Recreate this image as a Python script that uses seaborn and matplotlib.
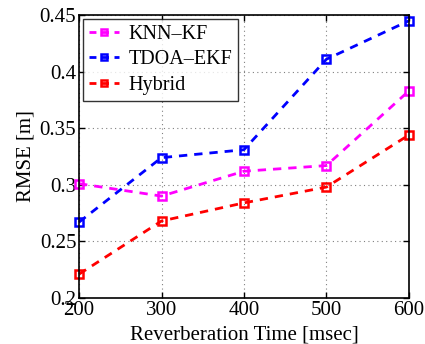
import matplotlib
matplotlib.use("Agg")
import matplotlib.pyplot as plt
import seaborn as sns
import pandas as pd
from matplotlib.lines import Line2D

reverb_ms = [200, 300, 400, 500, 600]
knn_kf = [0.301, 0.290, 0.312, 0.317, 0.383]
tdoa_ekf = [0.267, 0.324, 0.331, 0.411, 0.445]
hybrid = [0.221, 0.268, 0.284, 0.298, 0.344]
series_names = ["KNN\u2013KF", "TDOA\u2013EKF", "Hybrid"]
colors = ["#ff00ff", "#0000ff", "#ff0000"]

df = pd.DataFrame({
    "t": reverb_ms * 3,
    "rmse": knn_kf + tdoa_ekf + hybrid,
    "method": [n for n in series_names for _ in reverb_ms],
})

sns.set_style("white")
plt.rcParams["font.family"] = ["Liberation Serif", "DejaVu Serif"]
plt.rcParams["text.color"] = "black"
plt.rcParams["axes.labelcolor"] = "black"
plt.rcParams["xtick.color"] = "black"
plt.rcParams["ytick.color"] = "black"

fig = plt.figure(figsize=(4.25, 3.44), dpi=100)
ax = fig.add_axes([0.186, 0.134, 0.776, 0.822])

dash = (0, (3, 2.5))
sns.lineplot(data=df, x="t", y="rmse", hue="method", palette=colors,
             hue_order=series_names, ax=ax, linewidth=2,
             marker="s", markersize=5.5, markerfacecolor="none",
             markeredgewidth=1.8, dashes=False, legend=False)
for line, c in zip(ax.lines, colors):
    line.set_linestyle(dash)
    line.set_markeredgecolor(c)
    line.set_clip_on(False)

ax.set_xlim(200, 600)
ax.set_ylim(0.2, 0.45)
ax.set_xticks([200, 300, 400, 500, 600])
ax.set_yticks([0.2, 0.25, 0.3, 0.35, 0.4, 0.45])
ax.set_yticklabels(["0.2", "0.25", "0.3", "0.35", "0.4", "0.45"])
ax.tick_params(labelsize=15, direction="in", length=4, width=1, pad=2,
               top=True, right=True, left=True, bottom=True)
ax.grid(True, linestyle=(0, (1, 3)), color="#808080", linewidth=0.8)
for s in ax.spines.values():
    s.set_color("black")
    s.set_linewidth(1.2)
ax.set_xlabel("Reverberation Time [msec]", fontsize=15, labelpad=4)
ax.set_ylabel("RMSE [m]", fontsize=15, labelpad=3)

handles = [Line2D([], [], color=c, linestyle=(0, (2.5, 2)), linewidth=2,
                  marker="s", markersize=5, markerfacecolor="none",
                  markeredgewidth=1.8, markeredgecolor=c) for c in colors]
leg = ax.legend(handles, series_names, loc="upper left", fontsize=14.5,
                frameon=True, fancybox=False, edgecolor="black",
                borderaxespad=0.2, handlelength=1.5, handletextpad=0.45,
                labelspacing=0.3, borderpad=0.3)
leg.get_frame().set_linewidth(1.0)

fig.savefig("out.png", dpi=100)
